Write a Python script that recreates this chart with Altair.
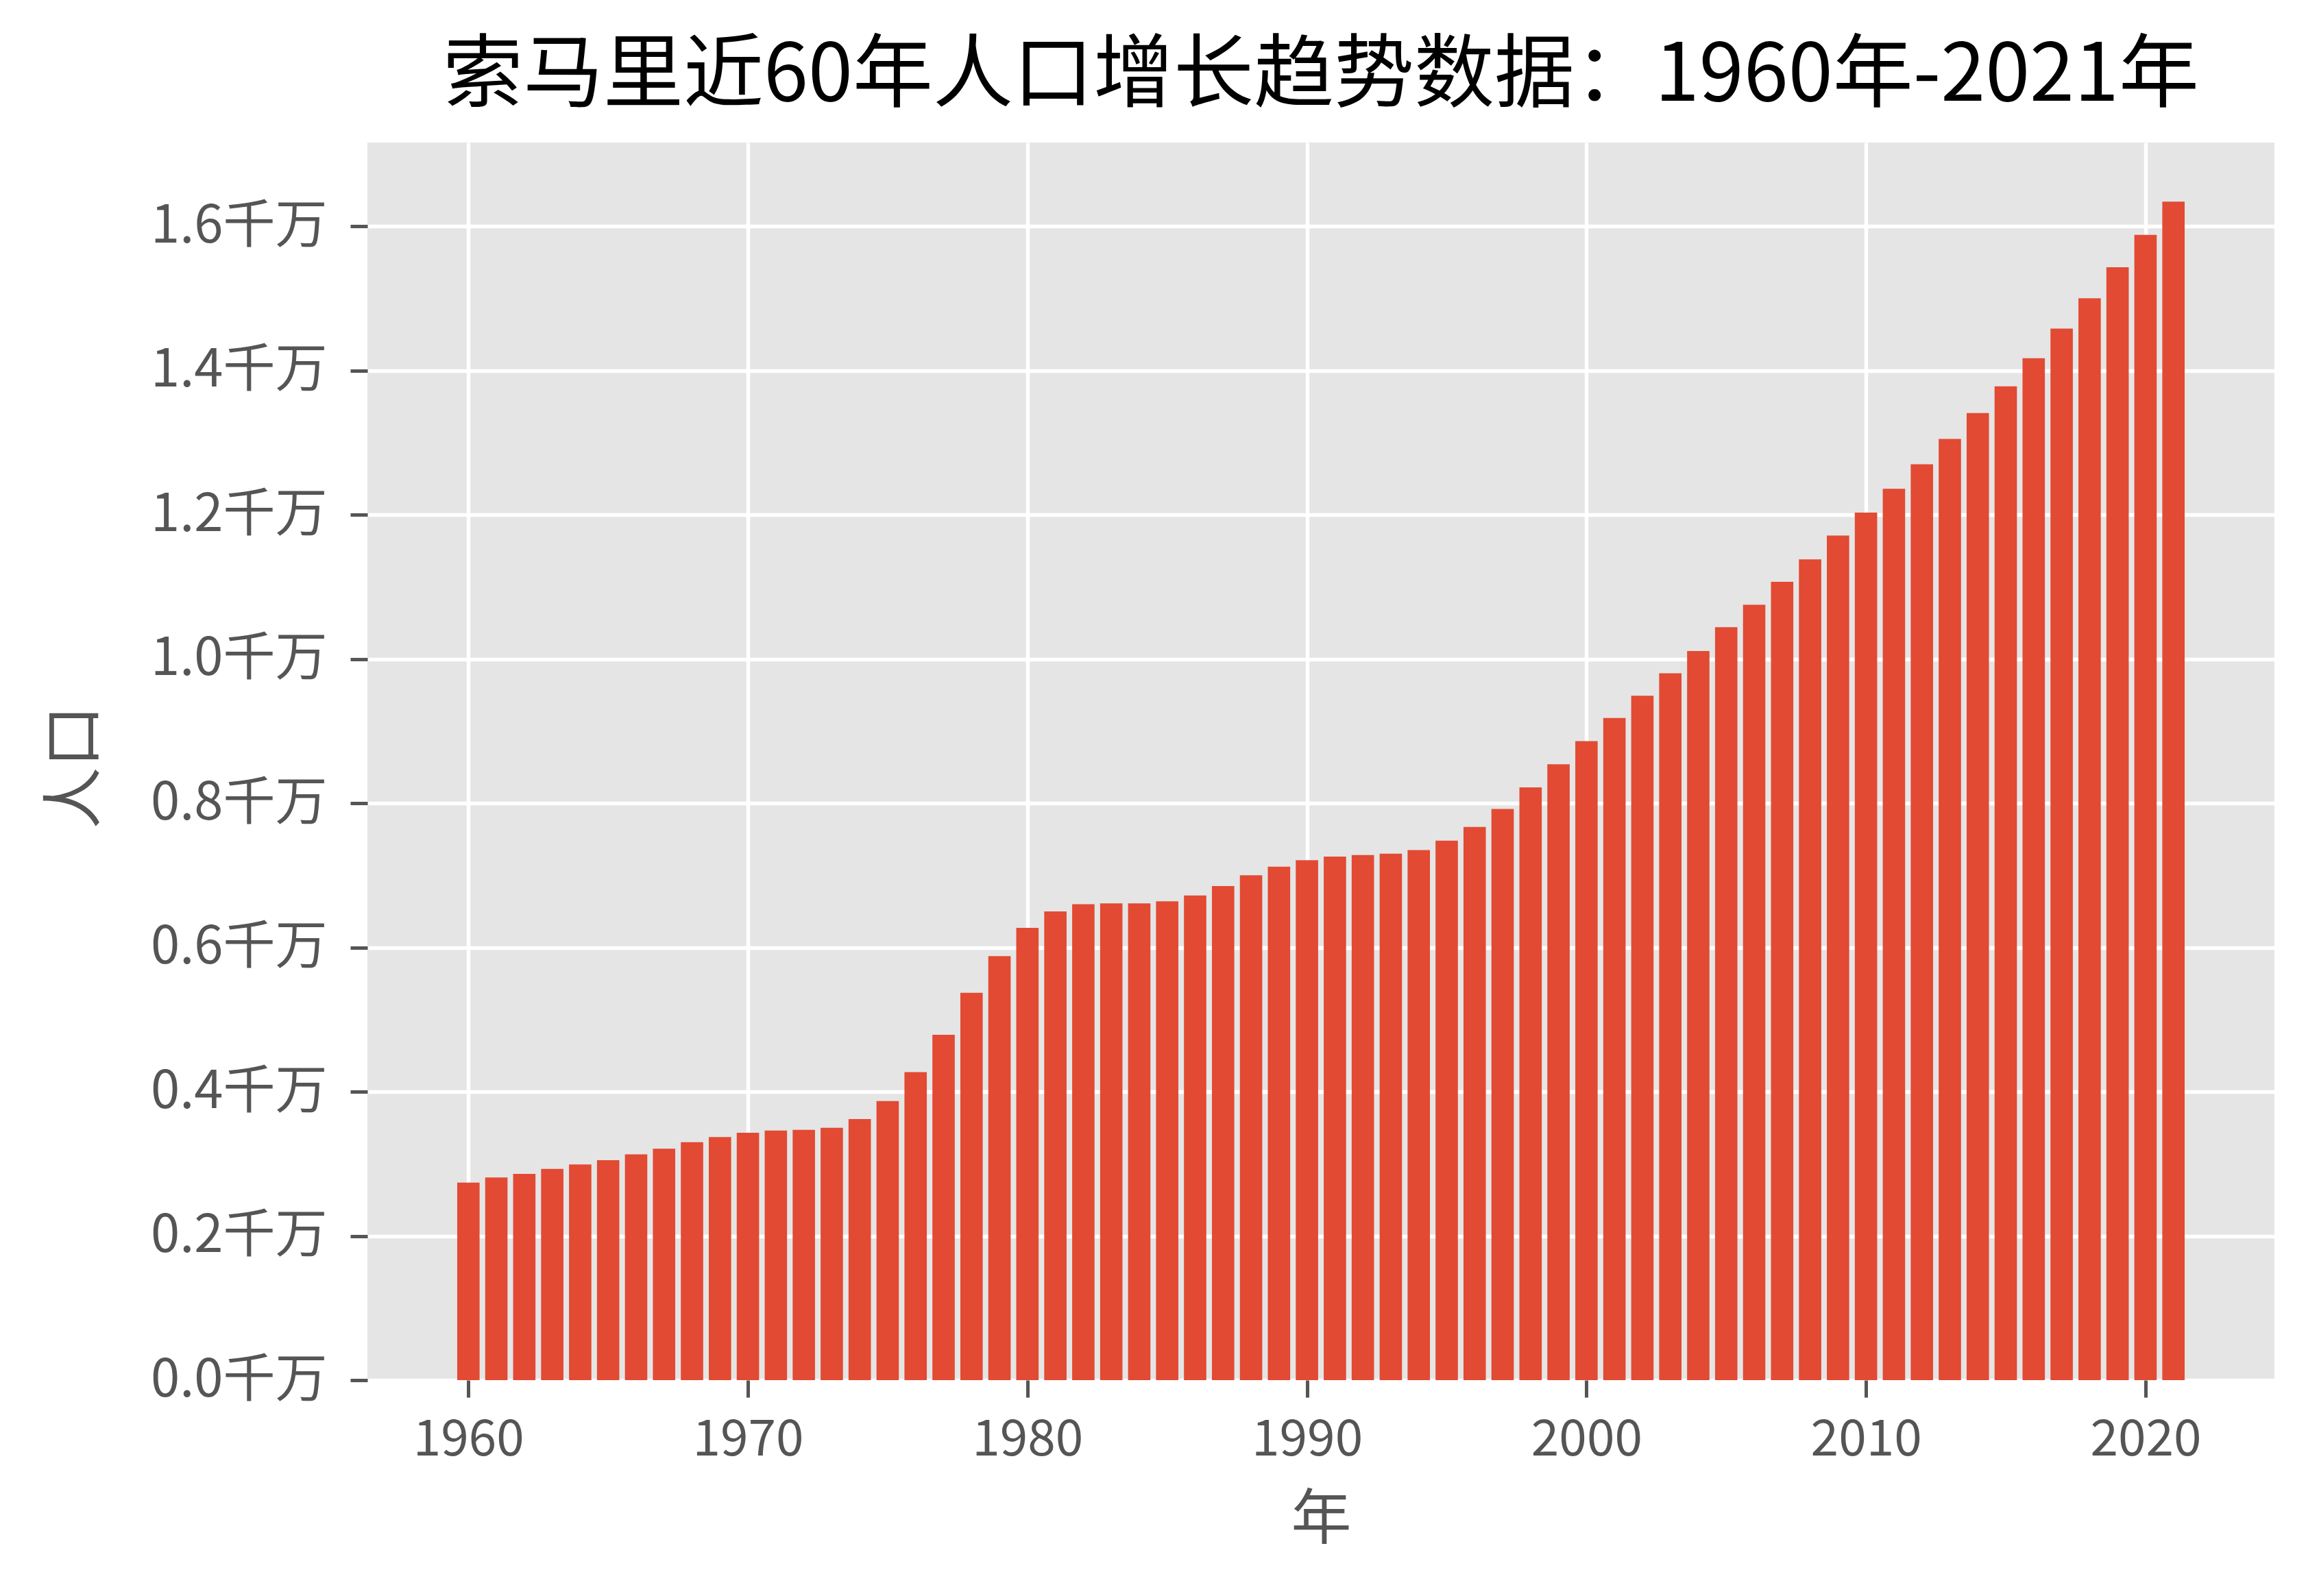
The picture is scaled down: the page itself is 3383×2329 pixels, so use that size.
import altair as alt
import pandas as pd

years = list(range(1960, 2022))
population = [
    0.274, 0.281, 0.286, 0.293, 0.299, 0.305, 0.313, 0.321, 0.330, 0.337,
    0.343, 0.346, 0.347, 0.350, 0.362, 0.387, 0.427, 0.479, 0.537, 0.588,
    0.627, 0.650, 0.660, 0.661, 0.661, 0.664, 0.672, 0.685, 0.700, 0.712,
    0.721, 0.726, 0.728, 0.730, 0.735, 0.748, 0.767, 0.792, 0.822, 0.854,
    0.886, 0.918, 0.949, 0.980, 1.011, 1.044, 1.075, 1.107, 1.138, 1.171,
    1.203, 1.236, 1.270, 1.305, 1.341, 1.378, 1.417, 1.458, 1.500, 1.543,
    1.588, 1.634,
]
y_ticks = [0.0, 0.2, 0.4, 0.6, 0.8, 1.0, 1.2, 1.4, 1.6]
x_ticks = [1960, 1970, 1980, 1990, 2000, 2010, 2020]
title_text = "索马里近60年人口增长趋势数据：1960年-2021年"

df = pd.DataFrame({"year": years, "pop": population})

FONT = "Noto Sans CJK SC"
GREY = "#555555"

chart = (
    alt.Chart(df)
    .transform_calculate(x0="datum.year - 0.4", x1="datum.year + 0.4")
    .mark_bar(color="#E24A33", orient="vertical")
    .encode(
        x=alt.X(
            "x0:Q",
            scale=alt.Scale(domain=[1956.51, 2024.49], nice=False, zero=False),
            axis=alt.Axis(
                values=x_ticks,
                format="d",
                title="年",
                grid=True,
                gridColor="white",
                gridWidth=5.5,
                domain=False,
                tickColor=GREY,
                tickSize=25,
                tickWidth=5,
                labelFont=FONT,
                labelFontSize=73,
                labelColor=GREY,
                labelPadding=26,
                labelLimit=500,
                titleFont=FONT,
                titleFontSize=88,
                titleFontWeight="normal",
                titleColor=GREY,
                titlePadding=36,
            ),
        ),
        x2="x1:Q",
        y=alt.Y(
            "pop:Q",
            scale=alt.Scale(domain=[0, 1.716], nice=False),
            axis=alt.Axis(
                values=y_ticks,
                labelExpr="format(datum.value, '.1f') + '千万'",
                title="人口",
                grid=True,
                gridColor="white",
                gridWidth=5.5,
                domain=False,
                tickColor=GREY,
                tickSize=25,
                tickWidth=5,
                labelFont=FONT,
                labelFontSize=76,
                labelColor=GREY,
                labelPadding=34,
                labelLimit=500,
                titleFont=FONT,
                titleFontSize=90,
                titleFontWeight="normal",
                titleColor=GREY,
                titleX=-380,
                titleY=911,
                titleAngle=270,
                titleAlign="center",
                titleBaseline="bottom",
            ),
        ),
        y2=alt.datum(0),
    )
    .properties(
        width=2782,
        height=1806,
        title=alt.TitleParams(
            text=title_text,
            font=FONT,
            fontSize=117,
            fontWeight="normal",
            color="black",
            anchor="middle",
            offset=36,
        ),
        autosize=alt.AutoSizeParams(type="none"),
        padding={"left": 536, "top": 208, "right": 65, "bottom": 315},
    )
    .configure(background="white")
    .configure_view(fill="#E5E5E5", strokeWidth=0)
)

chart.save("out.html", embed_options={"renderer": "svg", "actions": False})
